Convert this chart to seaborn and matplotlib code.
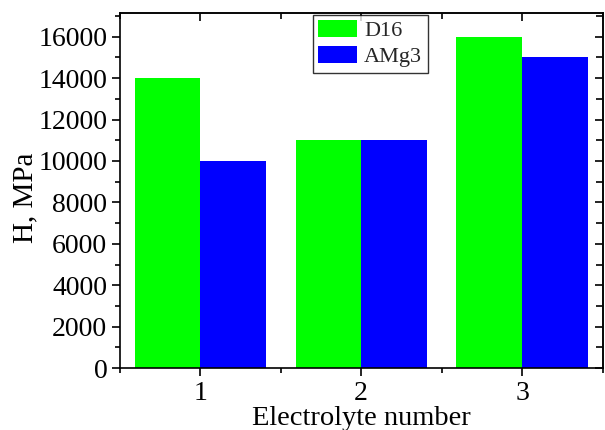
import pandas as pd
import matplotlib
matplotlib.use("Agg")
import matplotlib.pyplot as plt
import seaborn as sns
from matplotlib.ticker import MultipleLocator

electrolytes = ["1", "2", "3"]
d16_values = [14000, 11000, 16000]
amg3_values = [10000, 11000, 15000]
series_names = ["D16", "AMg3"]

df = pd.DataFrame({
    "Electrolyte": electrolytes * 2,
    "H": d16_values + amg3_values,
    "Alloy": [series_names[0]] * 3 + [series_names[1]] * 3,
})

sns.set_theme(style="ticks")
plt.rcParams["font.family"] = ["Liberation Serif", "DejaVu Serif"]

fig = plt.figure(figsize=(6.05, 4.30), dpi=100)
ax = fig.add_axes([0.198, 0.144, 0.798, 0.826])

sns.barplot(data=df, x="Electrolyte", y="H", hue="Alloy", ax=ax,
            palette=["#00FF00", "#0000FF"], width=0.816, saturation=1,
            dodge=True, legend=True)
for p in ax.patches:
    p.set_linewidth(0)

ax.set_xlim(-0.5, 2.5)
ax.set_ylim(0, 17150)
ax.yaxis.set_major_locator(MultipleLocator(2000))
ax.yaxis.set_minor_locator(MultipleLocator(1000))
ax.set_xticks([0, 1, 2])
ax.set_xticks([-0.5, 0.5, 1.5, 2.5], minor=True)
ax.set_xticklabels(electrolytes)

for s in ax.spines.values():
    s.set_visible(True)
    s.set_linewidth(1.2)
    s.set_color("black")

ax.tick_params(axis="both", which="major", labelsize=20, length=6, width=1.2,
               color="black", labelcolor="black", direction="out")
ax.tick_params(axis="both", which="minor", length=3.5, width=1.2,
               color="black", direction="out")
ax.tick_params(axis="y", which="major", pad=3)
ax.tick_params(axis="x", which="major", pad=3)

# inward ticks on the top and right edges
top = ax.secondary_xaxis("top")
top.set_xticks([0, 1, 2])
top.set_xticks([-0.5, 0.5, 1.5, 2.5], minor=True)
top.tick_params(which="both", direction="in", labeltop=False, width=1.2, color="black")
top.tick_params(which="major", length=6)
top.tick_params(which="minor", length=4)
top.spines["top"].set_linewidth(1.2)

right = ax.secondary_yaxis("right")
right.yaxis.set_major_locator(MultipleLocator(2000))
right.yaxis.set_minor_locator(MultipleLocator(1000))
right.tick_params(which="both", direction="in", labelright=False, width=1.2, color="black")
right.tick_params(which="major", length=6)
right.tick_params(which="minor", length=5)
right.spines["right"].set_linewidth(1.2)

ax.set_xlabel("Electrolyte number", fontsize=20.5, labelpad=0, color="black")
ax.set_ylabel("H, MPa", fontsize=21, labelpad=0, color="black", y=0.48)

leg = ax.legend(loc="upper left", bbox_to_anchor=(0.4, 0.995), fontsize=16,
                frameon=True, fancybox=False, edgecolor="black",
                handlelength=1.75, handleheight=0.8, borderpad=0.25,
                labelspacing=0.2, handletextpad=0.3, borderaxespad=0)
leg.get_frame().set_linewidth(1.0)

fig.savefig("out.png", dpi=100)
